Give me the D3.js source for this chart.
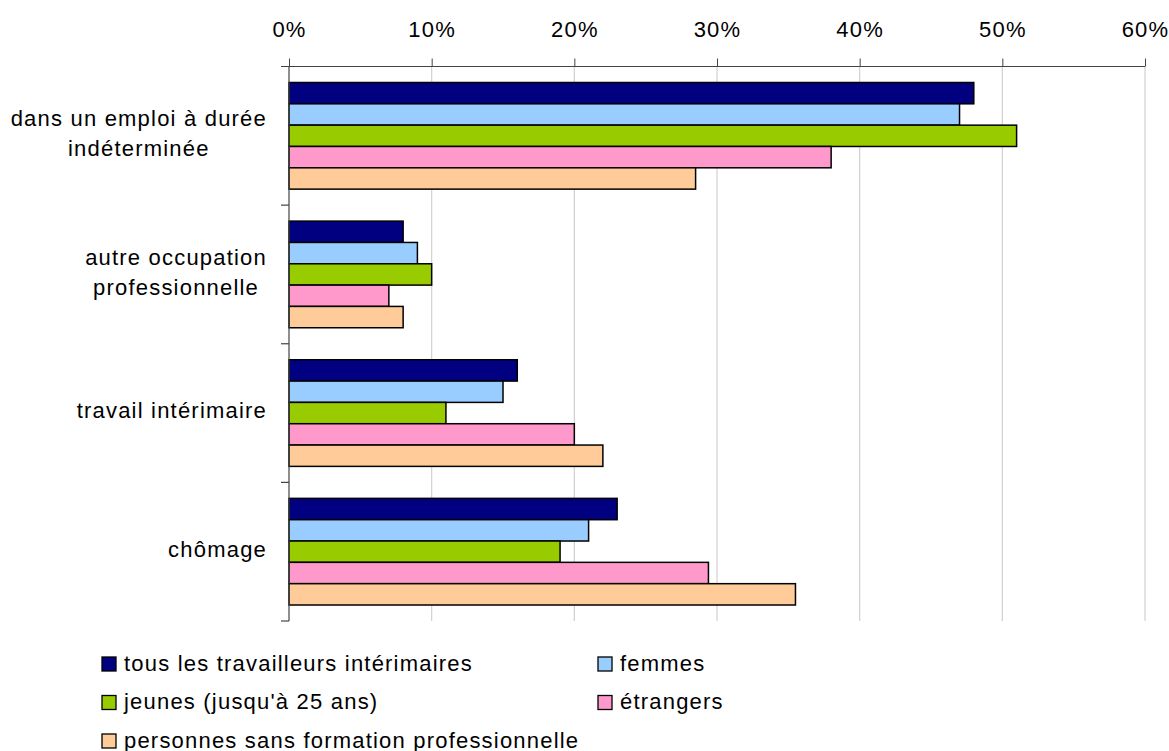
<!DOCTYPE html>
<html>
<head>
<meta charset="utf-8">
<script src="https://cdn.jsdelivr.net/npm/d3@7"></script>
<style>
  html, body { margin: 0; padding: 0; background: #fff; }
  svg { display: block; font-family: "Liberation Sans", Arial, sans-serif; }
</style>
</head>
<body>
<svg id="chart" width="1169" height="751"></svg>
<script>
const categories = [
  ["dans un emploi à durée", "indéterminée"],
  ["autre occupation", "professionnelle"],
  ["travail intérimaire"],
  ["chômage"]
];
const seriesNames = [
  "tous les travailleurs intérimaires",
  "femmes",
  "jeunes (jusqu'à 25 ans)",
  "étrangers",
  "personnes sans formation professionnelle"
];
const seriesColors = ["#000080", "#99CCFF", "#99CC00", "#FF99CC", "#FFCC99"];
const tousValues = [48, 8, 16, 23];
const femmesValues = [47, 9, 15, 21];
const jeunesValues = [51, 10, 11, 19];
const etrangersValues = [38, 7, 20, 29.4];
const sansFormationValues = [28.5, 8, 22, 35.5];
const xTicks = [0, 10, 20, 30, 40, 50, 60];

(function () {
const seriesValues = [tousValues, femmesValues, jeunesValues, etrangersValues, sansFormationValues];
const catKeys = categories.map(c => c.join(" "));
const FS = 22, LS = "1.2px";

const svg = d3.select("#chart");
const mLeft = 289, mRight = 1145, mTop = 66.5, mBottom = 621;

const x = d3.scaleLinear().domain([0, 60]).range([mLeft, mRight]);
const y = d3.scaleBand().domain(catKeys).range([mTop, mBottom]).paddingInner(0).paddingOuter(0);
const ySub = d3.scaleBand().domain(d3.range(seriesNames.length)).range([0, y.bandwidth()])
  .paddingInner(0).paddingOuter(0.75);

// gridlines
svg.append("g").selectAll("line").data(xTicks.slice(1)).join("line")
  .attr("x1", d => x(d)).attr("x2", d => x(d))
  .attr("y1", mTop).attr("y2", mBottom)
  .attr("stroke", "#d0d0d0").attr("stroke-width", 1.2);

// bars
const groups = svg.append("g").selectAll("g").data(catKeys).join("g")
  .attr("transform", d => `translate(0,${y(d)})`);
groups.selectAll("rect").data((d, ci) => seriesValues.map((vals, si) => ({ si, v: vals[ci] })))
  .join("rect")
  .attr("x", x(0))
  .attr("y", d => ySub(d.si))
  .attr("width", d => x(d.v) - x(0))
  .attr("height", ySub.bandwidth())
  .attr("fill", d => seriesColors[d.si])
  .attr("stroke", "#000").attr("stroke-width", 1.5);

// top axis
const xAxis = d3.axisTop(x).tickValues(xTicks).tickFormat(d => d + "%").tickSize(8).tickSizeOuter(0);
const gx = svg.append("g").attr("transform", `translate(0,${mTop})`).call(xAxis);
gx.select(".domain").attr("stroke", "#444").attr("d", `M${mLeft - 8},0H${mRight}`);
gx.selectAll(".tick line").attr("stroke", "#444");
gx.selectAll(".tick text").attr("font-size", FS).attr("fill", "#000")
  .attr("font-family", "'Liberation Sans', Arial, sans-serif")
  .style("letter-spacing", LS)
  .attr("y", -29.8).attr("dy", 0);

// left axis line and ticks at band boundaries
const bounds = catKeys.map(k => y(k)).concat([y.range()[1]]);
svg.append("line").attr("x1", mLeft).attr("x2", mLeft).attr("y1", mTop).attr("y2", mBottom)
  .attr("stroke", "#444").attr("stroke-width", 1.2);
svg.append("g").selectAll("line").data(bounds.slice(1)).join("line")
  .attr("x1", mLeft - 8).attr("x2", mLeft).attr("y1", d => d).attr("y2", d => d)
  .attr("stroke", "#444").attr("stroke-width", 1.2);

// category labels
const labelRight = 267;
const lab = svg.append("g").selectAll("g").data(categories).join("g")
  .attr("transform", (d, i) => `translate(0,${y(catKeys[i]) + y.bandwidth() / 2})`);
lab.each(function (lines) {
  const g = d3.select(this);
  const tmp = g.append("text").attr("font-size", FS).style("letter-spacing", LS).style("visibility", "hidden");
  let maxW = 0;
  lines.forEach(l => { tmp.text(l); maxW = Math.max(maxW, tmp.node().getComputedTextLength()); });
  tmp.remove();
  const cx = labelRight - maxW / 2;
  const lh = 30;
  lines.forEach((l, i) => {
    g.append("text")
      .attr("x", cx)
      .attr("y", (i - (lines.length - 1) / 2) * lh + 5.3)
      .attr("text-anchor", "middle")
      .attr("font-size", FS)
      .style("letter-spacing", LS)
      .attr("fill", "#000")
      .text(l);
  });
});

// legend
const legendPos = [[102, 664], [598, 664], [102, 702.5], [598, 702.5], [102, 741]];
const lg = svg.append("g").selectAll("g").data(seriesNames).join("g")
  .attr("transform", (d, i) => `translate(${legendPos[i][0]},${legendPos[i][1]})`);
lg.append("rect").attr("x", 0).attr("y", -7).attr("width", 14).attr("height", 14)
  .attr("fill", (d, i) => seriesColors[i]).attr("stroke", "#000").attr("stroke-width", 1.3);
lg.append("text").attr("x", 22).attr("y", 6.5).attr("font-size", FS).style("letter-spacing", LS)
  .attr("fill", "#000")
  .text(d => d);
})();
</script>
</body>
</html>
